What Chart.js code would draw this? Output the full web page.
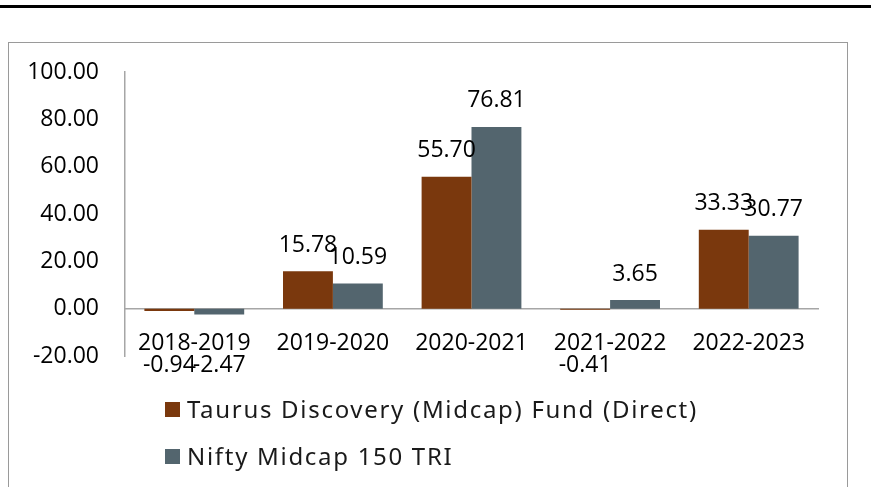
<!DOCTYPE html>
<html>
<head>
<meta charset="utf-8">
<script src="https://cdn.jsdelivr.net/npm/chart.js@4/dist/chart.umd.min.js"></script>
<style>
  html, body { margin: 0; padding: 0; background: #fff; }
  body { width: 871px; height: 487px; position: relative; overflow: hidden; }
  #topline { position: absolute; left: 0; top: 5px; width: 871px; height: 3px; background: #000; }
  #frame { position: absolute; left: 8px; top: 42px; width: 840px; height: 460px; border: 1.5px solid #9a9a9a; box-sizing: border-box; }
  #wrap { position: absolute; left: 0; top: 0; width: 871px; height: 487px; }
  #legend { position: absolute; left: 165px; top: 395px; font-family: "Noto Sans", sans-serif; font-size: 24px; letter-spacing: 1.7px; color: #1a1a1a; }
  .item { position: absolute; left: 0; white-space: nowrap; height: 28px; line-height: 28px; }
  .box { position: absolute; left: 0; top: 7px; width: 15px; height: 15px; }
  .txt { position: absolute; left: 22px; top: 0; }
</style>
</head>
<body>
<div id="topline"></div>
<div id="frame"></div>
<div id="wrap"><canvas id="c" width="871" height="487"></canvas></div>
<div id="legend"></div>
<script>
const categories = ["2018-2019", "2019-2020", "2020-2021", "2021-2022", "2022-2023"];
const fundValues = [-0.94, 15.78, 55.70, -0.41, 33.33];
const indexValues = [-2.47, 10.59, 76.81, 3.65, 30.77];
const seriesNames = ["Taurus Discovery (Midcap) Fund (Direct)", "Nifty Midcap 150 TRI"];
const seriesColors = ["#7A380D", "#53656E"];
const yTicks = [-20, 0, 20, 40, 60, 80, 100];

const FONT = "'Open Sans', sans-serif";

const valueLabels = {
  id: 'valueLabels',
  afterDatasetsDraw(chart) {
    const ctx = chart.ctx;
    ctx.save();
    ctx.font = "23px " + FONT;
    ctx.fillStyle = "#000";
    ctx.textAlign = "center";
    ctx.textBaseline = "middle";
    chart.data.datasets.forEach((ds, di) => {
      const meta = chart.getDatasetMeta(di);
      meta.data.forEach((bar, i) => {
        const v = ds.data[i];
        const y = v >= 0 ? bar.y - 26 : bar.base + 57;
        ctx.fillText(v.toFixed(2), bar.x, y);
      });
    });
    ctx.restore();
  }
};

const chart = new Chart(document.getElementById('c'), {
  type: 'bar',
  data: {
    labels: categories,
    datasets: [
      { label: seriesNames[0], data: fundValues, backgroundColor: seriesColors[0] },
      { label: seriesNames[1], data: indexValues, backgroundColor: seriesColors[1] }
    ]
  },
  options: {
    responsive: false,
    animation: false,
    events: [],
    layout: { padding: { left: 0, right: 53, top: 72, bottom: 131 } },
    plugins: { legend: { display: false }, tooltip: { enabled: false } },
    datasets: { bar: { categoryPercentage: 0.72, barPercentage: 1.0 } },
    scales: {
      x: {
        position: { y: 0 },
        grid: { display: false, drawTicks: false },
        border: { display: true, color: "#a6a6a6", width: 1.5 },
        ticks: { font: { family: FONT, size: 23 }, color: "#000", padding: 21, maxRotation: 0, autoSkip: false }
      },
      y: {
        min: -20, max: 100,
        afterFit(scale) { scale.width = 125; },
        afterBuildTicks(scale) { scale.ticks = yTicks.map(v => ({ value: v })); },
        grid: { display: false, drawTicks: false },
        border: { display: true, color: "#a6a6a6", width: 1.5 },
        ticks: { font: { family: FONT, size: 23 }, color: "#000", padding: 26, callback: v => Number(v).toFixed(2) }
      }
    }
  },
  plugins: [valueLabels]
});

const legend = document.getElementById('legend');
chart.data.datasets.forEach((ds, i) => {
  const item = document.createElement('div');
  item.className = 'item';
  item.style.top = (i * 47) + 'px';
  const box = document.createElement('div');
  box.className = 'box';
  box.style.background = ds.backgroundColor;
  const t = document.createElement('div');
  t.className = 'txt';
  t.textContent = ds.label;
  item.appendChild(box); item.appendChild(t);
  legend.appendChild(item);
});
</script>
</body>
</html>
